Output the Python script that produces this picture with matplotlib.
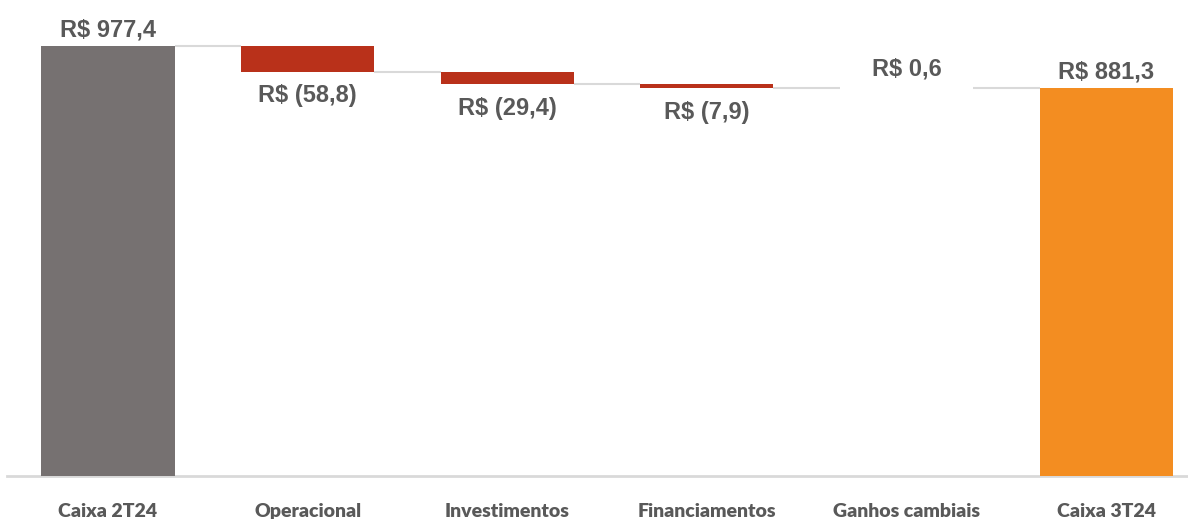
import matplotlib
matplotlib.use("Agg")
import matplotlib.pyplot as plt

categories = ["Caixa 2T24", "Operacional", "Investimentos", "Financiamentos", "Ganhos cambiais", "Caixa 3T24"]
start_value = 977.4
deltas = [-58.8, -29.4, -7.9, 0.6]
end_value = 881.3
labels = ["R$ 977,4", "R$ (58,8)", "R$ (29,4)", "R$ (7,9)", "R$ 0,6", "R$ 881,3"]

GRAY = "#767171"
RED = "#B9311A"
ORANGE = "#F38D21"
TXT = "#595959"
LINE = "#D9D9D9"

fig = plt.figure(figsize=(11.88, 5.19), dpi=100)
ax = fig.add_axes([0.0059, 0.0829, 0.9941, 0.9171])

bw = 0.667
bottoms, heights, colors = [], [], []
bottoms.append(0); heights.append(start_value); colors.append(GRAY)
level = start_value
for d in deltas:
    if d < 0:
        bottoms.append(level + d); heights.append(-d); colors.append(RED)
    else:
        bottoms.append(level); heights.append(d); colors.append("#A9D18E")
    level += d
bottoms.append(0); heights.append(end_value); colors.append(ORANGE)

x = list(range(len(categories)))
ax.bar(x, heights, bottom=bottoms, width=bw, color=colors, zorder=3, linewidth=0)

# connectors
conn_levels = [start_value] + [start_value + sum(deltas[:i + 1]) for i in range(len(deltas))]
for i in range(len(categories) - 1):
    lv = conn_levels[i]
    ax.plot([i + bw / 2, i + 1 - bw / 2], [lv, lv], color=LINE, lw=1.5, zorder=2,
            solid_capstyle="butt")

# labels
for i in range(len(categories)):
    if i == 0 or i == len(categories) - 1:
        y = heights[i]
        off = 11.5
    elif deltas[i - 1] < 0:
        y = bottoms[i]
        off = -17.5
    else:
        y = bottoms[i] + heights[i]
        off = 13.5
    ax.annotate(labels[i], (i, y), xytext=(0, off), textcoords="offset points",
                ha="center", va="center", fontsize=17, fontweight="bold",
                color=TXT, family=["Liberation Sans", "DejaVu Sans"])

ax.set_xlim(-0.506, 5.41)
ax.set_ylim(0, 1081)
for s in ["top", "right", "left"]:
    ax.spines[s].set_visible(False)
ax.spines["bottom"].set_color(LINE)
ax.spines["bottom"].set_linewidth(2)
ax.set_yticks([])
ax.set_xticks(x)
ax.set_xticklabels(categories, fontsize=14, fontweight="heavy", color=TXT,
                   family=["Lato", "DejaVu Sans"])
ax.tick_params(axis="x", length=0, pad=19.5)

fig.savefig("out.png", dpi=100)
